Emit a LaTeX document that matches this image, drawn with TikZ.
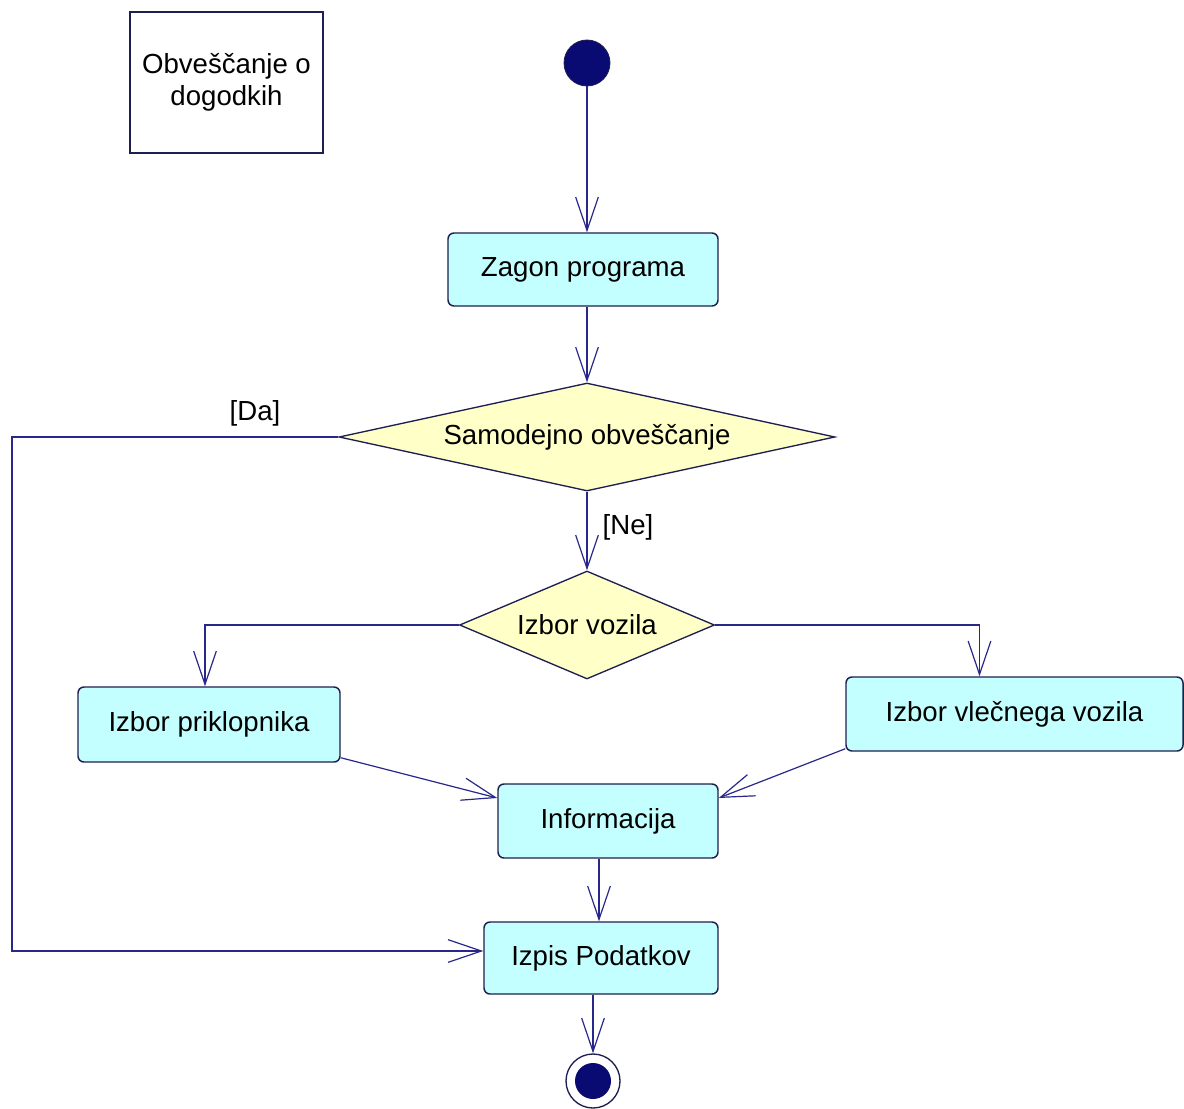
\documentclass[tikz,border=0pt]{standalone}
\usepackage{fontspec}
\setmainfont{Liberation Sans}
\usetikzlibrary{arrows.meta,shapes.geometric,calc}
\definecolor{linec}{RGB}{40,40,140}
\definecolor{edgec}{RGB}{30,30,80}
\definecolor{actfill}{RGB}{196,255,255}
\definecolor{decfill}{RGB}{255,255,200}
\definecolor{dotc}{RGB}{10,10,115}
\newdimen\px \px=0.75pt
\begin{document}
\begin{tikzpicture}[x=0.75pt,y=-0.75pt,
  font=\fontsize{20.7}{24}\selectfont,
  flow/.style={draw=linec, line width=0.9pt,
    -{Straight Barb[length=25pt,width=17pt,line width=0.9pt]}},
  act/.style={draw=edgec, line width=1.1pt, fill=actfill,
    rounded corners=4.5pt, inner sep=0pt},
  dec/.style={diamond, draw=edgec, line width=1pt, fill=decfill, inner sep=0pt},
  lbl/.style={inner sep=0pt},
]
% canvas
\fill[white] (0,0) rectangle (1184,1109);
\useasboundingbox (0,0) rectangle (1184,1109);

% note
\node[draw=edgec, line width=1pt, fill=white, minimum width=193\px,
  minimum height=141\px, align=center] (note) at (226.5,82.5)
  {Obveščanje o\\dogodkih};

% start / end
\node[circle, fill=dotc, draw=edgec, line width=0.6pt, minimum size=46\px,
  inner sep=0pt] (start) at (587,63) {};
\node[circle, draw=edgec, line width=1pt, fill=white, minimum size=54\px,
  inner sep=0pt] (final) at (593,1081) {};
\node[circle, fill=dotc, minimum size=36\px, inner sep=0pt] (finalDot) at (final) {};

% activities
\node[act, minimum width=270\px, minimum height=73\px] (zagon) at (583,269.5) {Zagon programa};
\node[act, minimum width=262\px, minimum height=75\px] (prik) at (209,724.5) {Izbor priklopnika};
\node[act, minimum width=337\px, minimum height=74\px] (vlec) at (1014.5,714) {Izbor vlečnega vozila};
\node[act, minimum width=220\px, minimum height=74\px] (info) at (608,821) {Informacija};
\node[act, minimum width=234\px, minimum height=72\px] (izpis) at (601,958) {Izpis Podatkov};

% decisions
\node[dec, shape aspect=4.59, minimum width=496\px, minimum height=108\px] (d1) at (587,437) {Samodejno obveščanje};
\node[dec, shape aspect=2.36, minimum width=255\px, minimum height=108\px] (d2) at (587,625) {Izbor vozila};

% guards
\node[lbl] (da) at (255,413) {[Da]};
\node[lbl] (ne) at (628,527) {[Ne]};

% flows
\coordinate (daTurn) at (12,0);
\draw[flow] (start) -- (start |- zagon.north);
\draw[flow] (d1.north |- zagon.south) -- (d1.north);
\draw[flow] (d1.south) -- (d2.north);
\draw[flow] (d1.west) -- (daTurn |- d1.west) |- ($(izpis.west)+(0,-7)$);
\draw[flow] (d2.west) -| ($(prik.north)+(-4,0)$);
\draw[flow] (d2.east) -| ($(vlec.north)+(-35,0)$);
\draw[flow] ($(prik.south east)+(0,-5)$) -- ($(info.west)+(0,-23)$);
\draw[flow] ($(vlec.south west)+(0,-3)$) -- ($(info.east)+(0,-23)$);
\draw[flow] ($(info.south)+(-9,0)$) -- ($(izpis.north)+(-2,0)$);
\draw[flow] (final |- izpis.south) -- (final.north);
\end{tikzpicture}
\end{document}
